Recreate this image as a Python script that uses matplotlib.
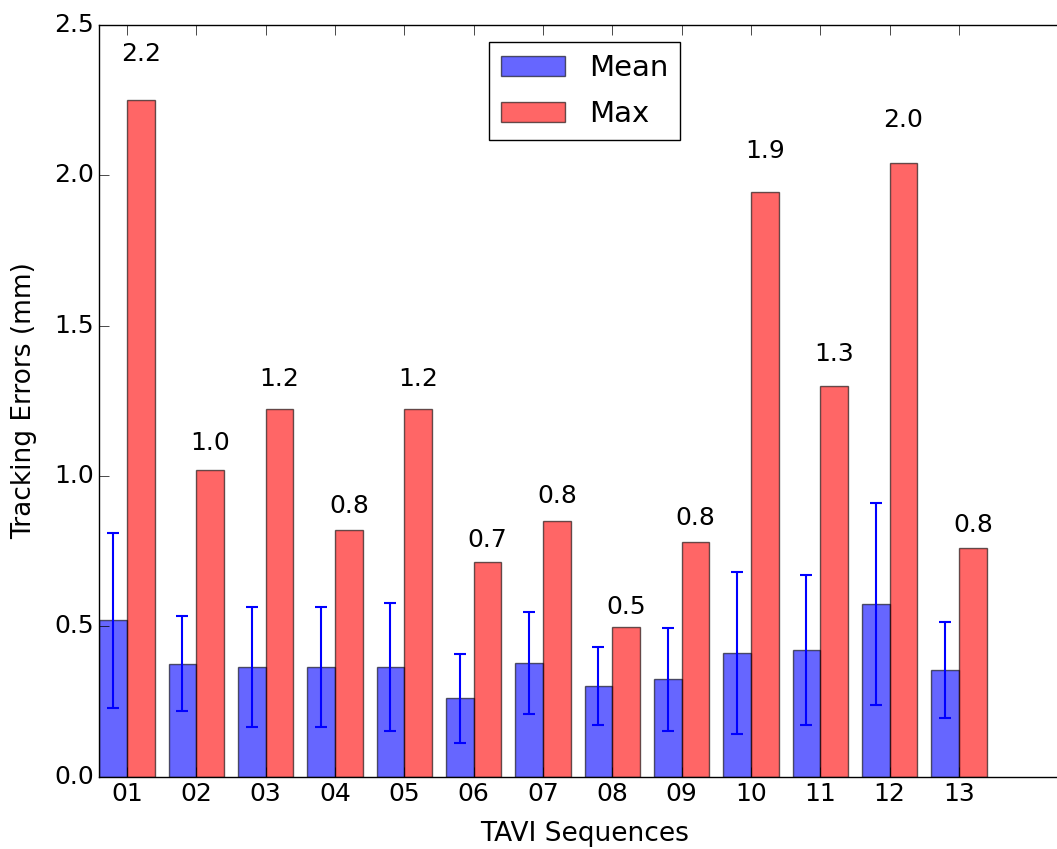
import numpy as np
import matplotlib
matplotlib.use('Agg')
import matplotlib.pyplot as plt

plt.style.use('classic')

sequences = ['01', '02', '03', '04', '05', '06', '07', '08', '09', '10', '11', '12', '13']
mean_err = [0.52, 0.375, 0.364, 0.364, 0.364, 0.261, 0.379, 0.302, 0.324, 0.411, 0.422, 0.574, 0.355]
std_err = [0.29, 0.158, 0.2, 0.2, 0.212, 0.148, 0.169, 0.13, 0.172, 0.27, 0.25, 0.336, 0.16]
max_err = [2.25, 1.02, 1.223, 0.82, 1.223, 0.713, 0.85, 0.499, 0.78, 1.943, 1.30, 2.041, 0.76]

ind = np.arange(len(sequences))
width = 0.4

fig = plt.figure(figsize=(10.57, 8.49), dpi=100, facecolor='white')
# правая граница осей выходит за край картинки (как в оригинале)
ax = fig.add_axes([0.0939, 0.0852, 0.9183, 0.8854])

rects1 = ax.bar(ind, mean_err, width, color='b', alpha=0.6, align='edge',
                yerr=std_err, error_kw=dict(ecolor='b', capsize=4, elinewidth=1.5, capthick=1.5),
                label='Mean')
rects2 = ax.bar(ind + width, max_err, width, color='r', alpha=0.6, align='edge', label='Max')

# подписи над красными столбцами
for rect in rects2:
    h = rect.get_height()
    ax.text(rect.get_x() + rect.get_width() / 2., 1.05 * h, '%.1f' % h,
            ha='center', va='bottom', fontsize=18)

ax.set_xlim(0, 14)
ax.set_ylim(0, 2.5)
ax.set_yticks([0.0, 0.5, 1.0, 1.5, 2.0, 2.5])
ax.set_xticks(ind + width)
ax.set_xticklabels(sequences)
ax.tick_params(labelsize=18, length=7)
ax.set_ylabel('Tracking Errors (mm)', fontsize=19, labelpad=12)
ax.set_xlabel('TAVI Sequences', fontsize=19, labelpad=11)

ax.legend(loc='upper center', fontsize=21, handlelength=2.2, borderaxespad=0.6,
          labelspacing=0.62)

fig.savefig('out.png', dpi=100, facecolor='white')
